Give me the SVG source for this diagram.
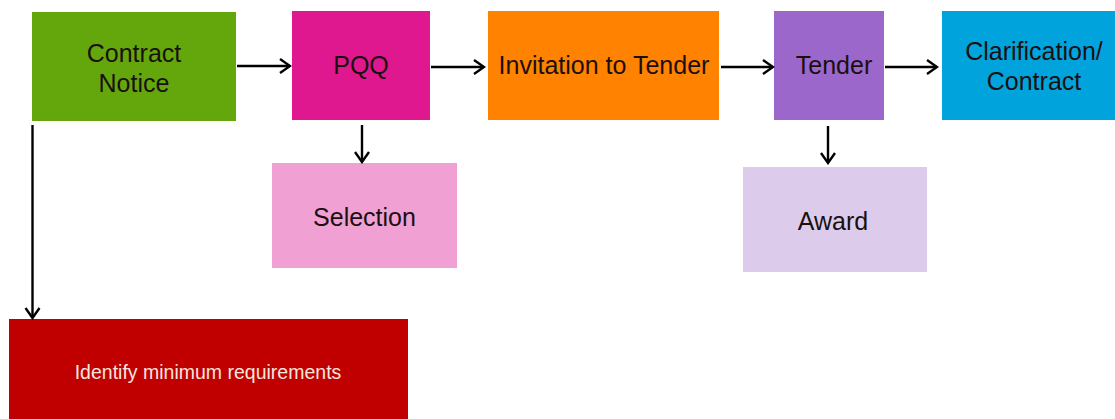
<svg xmlns="http://www.w3.org/2000/svg" width="1115" height="419" viewBox="0 0 1115 419">
<defs>
<marker id="arr" markerUnits="userSpaceOnUse" markerWidth="14" markerHeight="18" refX="12" refY="9" orient="auto">
<path d="M2,2 L12,9 L2,16" fill="none" stroke="#000" stroke-width="2.4"/>
</marker>
</defs>
<style>
.lbl{font-family:"Liberation Sans",Arial,sans-serif;font-size:25px;fill:#1a1010;text-anchor:middle}
.sm{font-family:"Liberation Sans",Arial,sans-serif;font-size:19.5px;fill:#f4e6dc;text-anchor:middle}
.conn{stroke:#000;stroke-width:2.4;fill:none;marker-end:url(#arr)}
</style>
<rect width="1115" height="419" fill="#fff"/>
<g id="contract-notice">
<rect x="32" y="12" width="204" height="109" fill="#64a70c"/>
<text class="lbl" x="134" y="62">Contract</text>
<text class="lbl" x="134" y="92">Notice</text>
</g>
<g id="pqq">
<rect x="292" y="11" width="138" height="109" fill="#e0188f"/>
<text class="lbl" x="361" y="74">PQQ</text>
</g>
<g id="selection">
<rect x="272" y="163" width="185" height="105" fill="#f0a0d2"/>
<text class="lbl" x="364.5" y="226">Selection</text>
</g>
<g id="invitation">
<rect x="488" y="11" width="231" height="109" fill="#ff8200"/>
<text class="lbl" x="604" y="74">Invitation to Tender</text>
</g>
<g id="tender">
<rect x="774" y="11" width="110" height="109" fill="#9b67cb"/>
<text class="lbl" x="834" y="74">Tender</text>
</g>
<g id="award">
<rect x="743" y="167" width="184" height="105" fill="#dccbeb"/>
<text class="lbl" x="833" y="230">Award</text>
</g>
<g id="clarification">
<rect x="942" y="11" width="185" height="109" fill="#00a3dc"/>
<text class="lbl" x="1034" y="60">Clarification/</text>
<text class="lbl" x="1034" y="90">Contract</text>
</g>
<g id="identify">
<rect x="9" y="319" width="399" height="110" fill="#c00000"/>
<text class="sm" x="208" y="379">Identify minimum requirements</text>
</g>
<g id="connectors">
<line class="conn" x1="237" y1="66" x2="290" y2="66"/>
<line class="conn" x1="431" y1="67" x2="484" y2="67"/>
<line class="conn" x1="721" y1="67" x2="773" y2="67"/>
<line class="conn" x1="885" y1="67" x2="937" y2="67"/>
<line class="conn" x1="362" y1="125" x2="362" y2="162"/>
<line class="conn" x1="828" y1="126" x2="828" y2="163"/>
<line class="conn" x1="32.5" y1="125" x2="32.5" y2="318"/>
</g>
</svg>
